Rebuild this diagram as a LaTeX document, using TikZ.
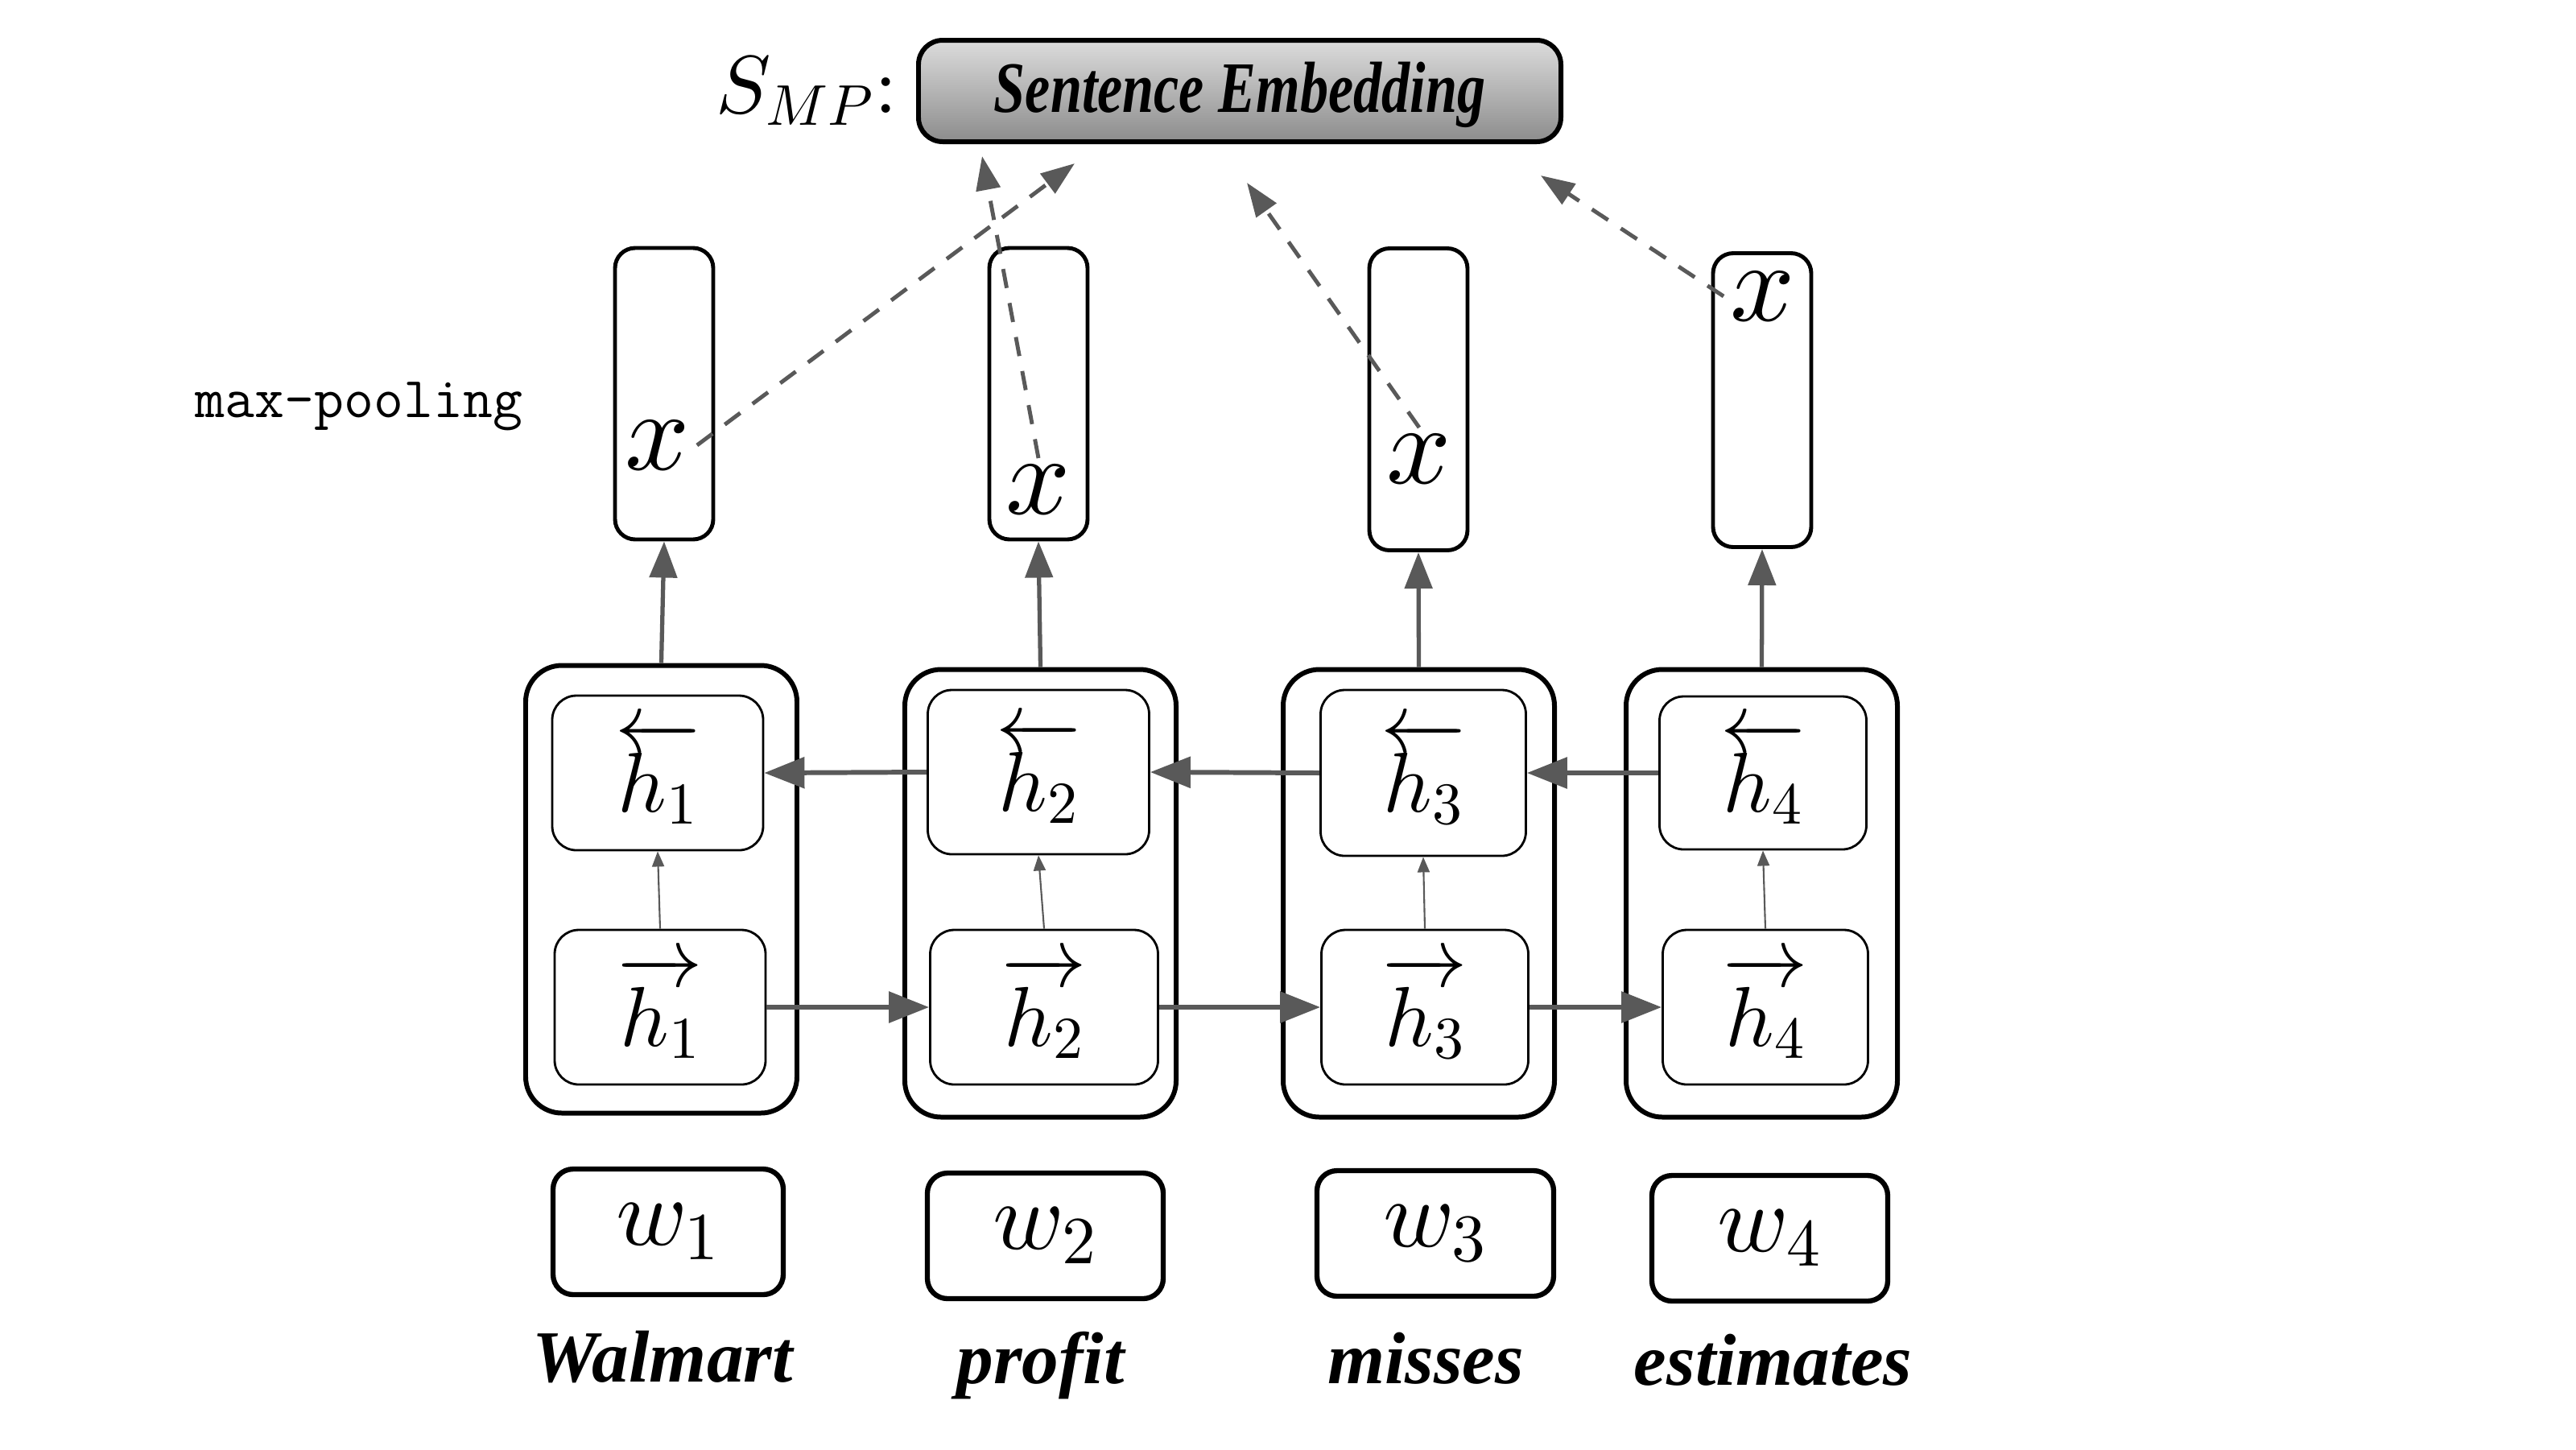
\documentclass[tikz,border=0pt]{standalone}
\usepackage{fontspec}
\usepackage{amsmath}
\usetikzlibrary{arrows.meta, positioning}
\DeclareFontShape{OML}{cmm}{m}{it}{<->cmmi10}{}
\DeclareFontShape{OMS}{cmsy}{m}{n}{<->cmsy10}{}
\DeclareFontShape{OT1}{cmr}{m}{n}{<->cmr10}{}
\newfontfamily\wordfont{Liberation Serif}
\newfontfamily\embfont{Liberation Serif}[FakeStretch=0.78]
\definecolor{arrgray}{HTML}{595959}
\definecolor{embtop}{HTML}{DCDCDC}
\definecolor{embbot}{HTML}{8C8C8C}
\tikzset{
  cel/.style ={draw, rounded corners=4.5mm, minimum width=33.7mm, minimum height=55.6mm, line width=1.7pt},
  hid/.style ={draw, rounded corners=3mm, minimum width=26.2mm, minimum height=19.2mm, inner sep=0pt, line width=0.8pt, font=\fontsize{30}{36}\selectfont},
  pl/.style  ={draw, rounded corners=2.5mm, minimum width=12.2mm, minimum height=36.2mm, line width=1.4pt},
  xv/.style  ={inner sep=0.8mm, font=\fontsize{40}{46}\selectfont},
  wd/.style  ={draw, rounded corners=2.5mm, minimum width=28.6mm, minimum height=15.6mm, line width=1.8pt, font=\fontsize{34}{40}\selectfont},
  wlab/.style={inner sep=0pt, text height=6.2mm, text depth=2mm, font=\wordfont\fontsize{26}{30}\selectfont\bfseries\itshape},
  emb/.style ={draw, rounded corners=3mm, minimum width=79.8mm, minimum height=12.6mm, line width=1.7pt, top color=embtop, bottom color=embbot, text height=6.2mm, text depth=1mm, font=\embfont\fontsize{25.6}{30}\selectfont\bfseries\itshape},
  upa/.style ={-{Triangle[length=4.5mm, width=3.4mm]}, line width=1.5pt, arrgray},
  rec/.style ={-{Triangle[length=5mm, width=3.8mm]}, line width=1.7pt, arrgray},
  thn/.style ={-{Triangle[length=1.9mm, width=1.5mm]}, line width=0.6pt, arrgray},
  dsh/.style ={-{Triangle[length=4.2mm, width=3mm]}, line width=1.4pt, arrgray, dash pattern=on 2.4mm off 1.9mm},
  lab/.style ={font=\ttfamily\fontsize{20.4}{24}\selectfont},
}
\begin{document}
\begin{tikzpicture}
  \useasboundingbox (0,0) rectangle (32,-18);
  % sentence embedding on top
  \node[emb] (E) at (15.40,-1.13) {Sentence Embedding};
  \node[inner sep=0pt, font=\fontsize{29}{34}\selectfont, left=2.3mm of E] (S) {$S_{MP}{:}$};
  \node[lab] (mp) at (4.46,-5.05) {max-pooling};
  % bi-LSTM cells
  \node[cel] (c1) at (8.215,-11.045) {};
  \node[cel] (c2) at (12.925,-11.095) {};
  \node[cel] (c3) at (17.625,-11.095) {};
  \node[cel] (c4) at (21.885,-11.095) {};
  \node[hid] (b1) at (8.17,-9.60) {$\overleftarrow{h_1}$};
  \node[hid] (f1) at (8.20,-12.51) {$\overrightarrow{h_1}$};
  \node[hid, minimum width=27.5mm, minimum height=20.4mm] (b2) at (12.90,-9.59) {$\overleftarrow{h_2}$};
  \node[hid, minimum width=28.3mm] (f2) at (12.97,-12.51) {$\overrightarrow{h_2}$};
  \node[hid, minimum width=25.5mm, minimum height=20.6mm] (b3) at (17.68,-9.60) {$\overleftarrow{h_3}$};
  \node[hid, minimum width=25.7mm] (f3) at (17.70,-12.51) {$\overrightarrow{h_3}$};
  \node[hid, minimum width=25.7mm, minimum height=19mm] (b4) at (21.90,-9.60) {$\overleftarrow{h_4}$};
  \node[hid, minimum width=25.5mm] (f4) at (21.93,-12.51) {$\overrightarrow{h_4}$};
  % pooled vectors
  \node[pl] (p1) at (8.25,-4.89) {};
  \node[pl] (p2) at (12.90,-4.89) {};
  \node[pl, minimum height=37.5mm] (p3) at (17.62,-4.96) {};
  \node[pl, minimum height=36.5mm] (p4) at (21.89,-4.97) {};
  \node[xv] (x1) at (8.17,-5.53) {$x$};
  \node[xv] (x2) at (12.90,-6.08) {$x$};
  \node[xv] (x3) at (17.63,-5.70) {$x$};
  \node[xv] (x4) at (21.90,-3.68) {$x$};
  \coordinate (t1) at (13.35,-2.03);
  \coordinate (t2) at (12.20,-1.94);
  \coordinate (t3) at (15.49,-2.27);
  \coordinate (t4) at (19.14,-2.18);
  % input words
  \node[wd] (w1) at (8.30,-15.30) {$w_1$};
  \node[wd, minimum width=29.3mm] (w2) at (12.985,-15.35) {$w_2$};
  \node[wd, minimum width=29.4mm] (w3) at (17.83,-15.32) {$w_3$};
  \node[wd, minimum width=29.3mm] (w4) at (21.985,-15.38) {$w_4$};
  \node[wlab, below=4.3mm of w1, xshift=-0.7mm] (l1) {Walmart};
  \node[wlab, below=4.0mm of w2, xshift=-0.6mm] (l2) {profit};
  \node[wlab, below=4.3mm of w3, xshift=-1.2mm] (l3) {misses};
  \node[wlab, below=3.9mm of w4, xshift=0.4mm] (l4) {estimates};
  % connectors
  \draw[upa] (c1.north) -- (p1.south); \draw[upa] (c2.north) -- (p2.south);
  \draw[upa] (c3.north) -- (p3.south); \draw[upa] (c4.north) -- (p4.south);
  \draw[rec] (b2.west) -- (b1.east); \draw[rec] (b3.west) -- (b2.east); \draw[rec] (b4.west) -- (b3.east);
  \draw[rec] (f1.east) -- (f2.west); \draw[rec] (f2.east) -- (f3.west); \draw[rec] (f3.east) -- (f4.west);
  \draw[thn] (f1.north) -- (b1.south); \draw[thn] (f2.north) -- (b2.south);
  \draw[thn] (f3.north) -- (b3.south); \draw[thn] (f4.north) -- (b4.south);
  \draw[dsh] (x1.east) -- (t1); \draw[dsh] (x2.north) -- (t2);
  \draw[dsh] (x3.north) -- (t3); \draw[dsh] (x4.west) -- (t4);
\end{tikzpicture}
\end{document}
